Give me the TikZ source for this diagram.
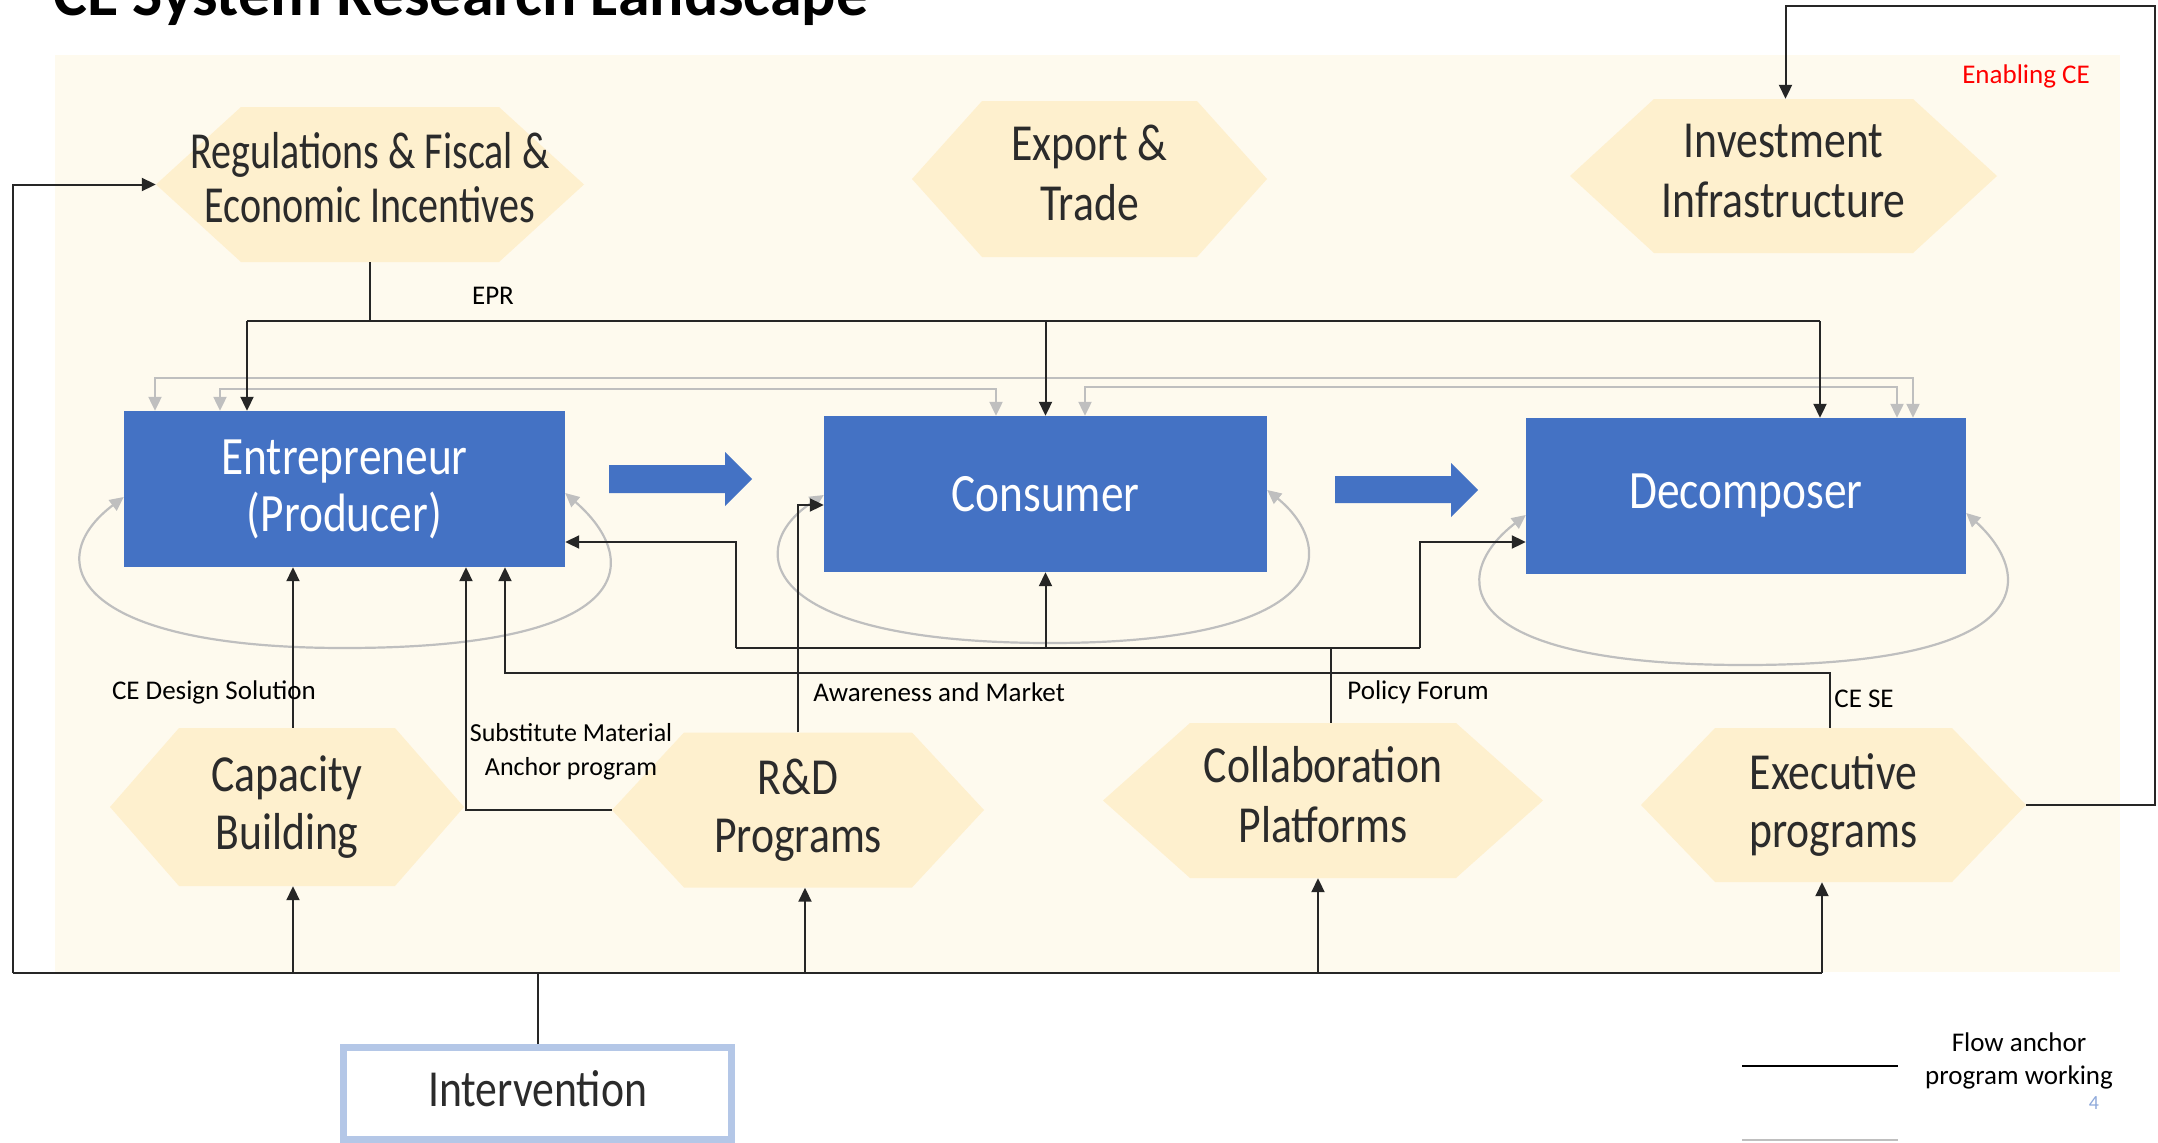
\documentclass[tikz,border=0pt]{standalone}
\usepackage{fontspec}
\setmainfont{Carlito}
\newfontfamily\hexfam{Carlito}[FakeStretch=0.84]
\newfontfamily\regfam{Carlito}[FakeStretch=0.77]
\usetikzlibrary{arrows.meta,calc}
\definecolor{panel}{HTML}{FEFAEE}
\definecolor{hexfill}{HTML}{FEF0CE}
\definecolor{bl}{HTML}{4472C4}
\definecolor{gr}{HTML}{BFBFBF}
\definecolor{ibord}{HTML}{B4C7E7}
\definecolor{txt}{HTML}{2B2B2B}
\definecolor{pgnum}{HTML}{8EA9DB}
\newcommand\hexf{\hexfam\fontsize{52}{58}\selectfont}
\newcommand\regf{\regfam\fontsize{52}{56}\selectfont}
\newcommand\boxf{\hexfam\fontsize{54}{57}\selectfont}
\newcommand\lblf{\fontsize{27}{33}\selectfont}
% name, cx, cy, w, h, inset, text
\newcommand\hexa[7]{%
  \fill[hexfill] (#2-#4/2,#3) -- (#2-#4/2+#6,#3-#5/2) -- (#2+#4/2-#6,#3-#5/2) -- (#2+#4/2,#3) -- (#2+#4/2-#6,#3+#5/2) -- (#2-#4/2+#6,#3+#5/2) -- cycle;
  \node[hextext, minimum width=#4pt, minimum height=#5pt] (#1) at (#2,#3) {#7};}
\begin{document}
\begin{tikzpicture}[x=1pt,y=-1pt,
  line/.style={draw=black!85, line width=2pt},
  arr/.style={line, -{Triangle[length=14pt,width=13pt]}},
  gline/.style={draw=gr, line width=2.2pt},
  garr2/.style={gline, {Triangle[length=14pt,width=13pt]}-{Triangle[length=14pt,width=13pt]}},
  lbl/.style={font=\lblf, text=black, inner sep=0pt, align=center},
  hextext/.style={font=\hexf, text=txt, align=center, inner sep=0pt, shape=rectangle},
  bluebox/.style={fill=bl, text=white, font=\boxf, align=center, inner sep=0pt, shape=rectangle}]
\useasboundingbox (0,0) rectangle (2158,1143);
\fill[white] (0,0) rectangle (2158,1143);
\fill[panel] (55,55) rectangle (2120,972);

% title
\node[anchor=base west, inner sep=0pt, font=\bfseries\fontsize{64}{70}\selectfont] (title) at (53,15) {CE System Research Landscape};
\node[lbl, text=red] (enab) at (2026,76) {Enabling CE};

% hexagons
\hexa{reg}{370}{184.5}{428}{155}{85}{\regf\raisebox{6pt}{\begin{tabular}{@{}c@{}}Regulations \& Fiscal \&\\[-2pt]Economic Incentives\end{tabular}}}
\hexa{exp}{1089.5}{179}{355}{156}{70}{\raisebox{7pt}{\begin{tabular}{@{}c@{}}Export \&\\[2pt]Trade\end{tabular}}}
\hexa{inv}{1783.5}{176}{427}{154}{84}{\raisebox{5pt}{\begin{tabular}{@{}c@{}}Investment\\[2pt]Infrastructure\end{tabular}}}
\hexa{cap}{287}{807}{354}{158}{69}{Capacity\\Building}
\hexa{rd}{798}{810}{372}{155}{72}{R\&D\\Programs}
\hexa{col}{1323}{800.5}{440}{155}{87}{\raisebox{4pt}{\begin{tabular}{@{}c@{}}Collaboration\\[2pt]Platforms\end{tabular}}}
\hexa{ex}{1833.5}{805}{385}{154}{74}{Executive\\programs}

% blue boxes
\node[bluebox, minimum width=441pt, minimum height=156pt] (ent) at (344.5,489) {Entrepreneur\\(Producer)};
\node[bluebox, minimum width=443pt, minimum height=156pt] (con) at (1045.5,494) {Consumer};
\node[bluebox, minimum width=440pt, minimum height=156pt] (dec) at (1746,496) {Decomposer};

% block arrows
\fill[bl] (609,465) -- (725,465) -- (725,452) -- (752,479) -- (725,506) -- (725,493) -- (609,493) -- cycle;
\fill[bl] (1335,476) -- (1451,476) -- (1451,463) -- (1478,490) -- (1451,517) -- (1451,503) -- (1335,503) -- cycle;

% grey feedback lines
\coordinate (gA) at (155,378); \coordinate (gB) at (1913,378);
\draw[garr2] (gA |- ent.north) -- (gA) -- (gB) -- (gB |- dec.north);
\coordinate (gC) at (220,389); \coordinate (gD) at (996,389);
\draw[garr2] (gC |- ent.north) -- (gC) -- (gD) -- (gD |- con.north);
\coordinate (gE) at (1085,387); \coordinate (gF) at (1897,387);
\draw[garr2] (gE |- con.north) -- (gE) -- (gF) -- (gF |- dec.north);

% grey self loops
\draw[garr2] ([yshift=-8pt]ent.west) .. controls (40,560) and (72,648) .. (344,648) .. controls (640,648) and (642,560) .. ([yshift=-4pt]ent.east);
\draw[garr2] ([yshift=-1pt]con.west) .. controls (745,545) and (752,643) .. (1050,643) .. controls (1342,643) and (1335,545) .. ([yshift=4pt]con.east);
\draw[garr2] ([yshift=-19pt]dec.west) .. controls (1448,575) and (1450,665) .. (1745,665) .. controls (2042,665) and (2034,575) .. ([yshift=-17pt]dec.east);

% EPR
\coordinate (epr) at (370,321); \coordinate (eprL) at (247,321); \coordinate (eprR) at (1820,321);
\draw[line] (reg.south) -- (epr);
\draw[line] (eprL) -- (eprR);
\draw[arr] (eprL) -- (eprL |- ent.north);
\draw[arr] (con.north |- epr) -- (con.north);
\draw[arr] (eprR) -- (eprR |- dec.north);
\node[lbl] (eprlbl) at (493,296) {EPR};

% CE design solution
\coordinate (cd) at ([xshift=6pt]cap.north);
\draw[arr] (cd) -- (cd |- ent.south);
\node[lbl] (cdl) at (214,692) {CE Design Solution};

% Substitute material
\coordinate (sm) at (466,810);
\draw[arr] (rd.west) -- (sm) -- (sm |- ent.south);
\node[lbl, font=\fontsize{26}{34}\selectfont] (sml) at (571,752) {Substitute Material\\Anchor program};

% CE SE
\coordinate (cs) at (1830,673); \coordinate (cs2) at (505,673);
\draw[arr] (ex.north -| cs) -- (cs) -- (cs2) -- (cs2 |- ent.south);
\node[lbl] (csl) at (1864,699) {CE SE};

% Awareness and market
\coordinate (aw) at (798,505);
\draw[arr] (rd.north) -- (aw) -- (aw -| con.west);
\node[lbl] (awl) at (939,692) {Awareness and Market};

% Policy forum
\coordinate (pf) at (1331,648); \coordinate (pfL) at (736,648); \coordinate (pfR) at (1420,648);
\coordinate (pfL2) at (736,542); \coordinate (pfR2) at (1420,542);
\draw[line] (col.north -| pf) -- (pf);
\draw[line] (pfL) -- (pfR);
\draw[arr] (pfL) -- (pfL2) -- (pfL2 -| ent.east);
\draw[arr] (con.south |- pf) -- (con.south);
\draw[arr] (pfR) -- (pfR2) -- (pfR2 -| dec.west);
\node[lbl] (pfl) at (1418,692) {Policy Forum};

% Executive -> Investment
\coordinate (rt) at (2155,6);
\draw[arr] (ex.east) -| (rt) -| ([xshift=2pt]inv.north);

% Intervention
\node[draw=ibord, line width=7pt, fill=white, minimum width=388pt, minimum height=92pt, inner sep=0pt, font=\hexf, text=txt] (int) at (537.5,1093.5) {\raisebox{9pt}{Intervention}};
\coordinate (bL) at (13,973); \coordinate (bR) at (1822,973);
\draw[line] (bL) -- (bR);
\draw[arr] (bL) |- (reg.west);
\draw[line] (int.north) -- (int.north |- bL);
\draw[arr] (cd |- bL) -- (cd |- cap.south);
\coordinate (rdx) at ([xshift=7pt]rd.south);
\draw[arr] (rdx |- bL) -- (rdx);
\coordinate (colx) at ([xshift=-5pt]col.south);
\draw[arr] (colx |- bL) -- (colx);
\draw[arr] (bR) -- (bR |- ex.south);

% legend
\coordinate (lg1) at (1742,1066); \coordinate (lg2) at (1898,1066);
\draw[draw=black, line width=2.5pt] (lg1) -- (lg2);
\coordinate (lg3) at (1742,1140); \coordinate (lg4) at (1898,1140);
\draw[draw=gr, line width=2.5pt] (lg3) -- (lg4);
\node[lbl, font=\fontsize{27}{33}\selectfont] (lgt) at (2019,1061) {Flow anchor\\program working};
\node[lbl, text=pgnum, font=\fontsize{20}{24}\selectfont] (pg) at (2094,1103) {4};
\end{tikzpicture}
\end{document}
